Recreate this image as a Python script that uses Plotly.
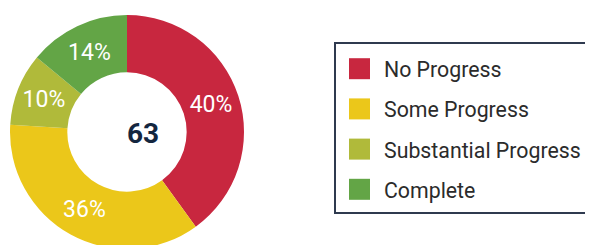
import plotly.graph_objects as go

labels = ["No Progress", "Some Progress", "Substantial Progress", "Complete"]
values = [40, 36, 10, 14]
colors = ["#C8273F", "#EBC71A", "#B0BA3A", "#63A546"]
center_total = "63"

W, H = 593, 245
OFF = 8  # page body margin offset


def px(x):
    return (x - OFF) / W


def py(y):
    return 1 - (y - OFF) / H


fig = go.Figure(
    go.Pie(
        labels=labels,
        values=values,
        hole=0.51,
        sort=False,
        direction="clockwise",
        rotation=0,
        marker=dict(colors=colors, line=dict(width=0)),
        texttemplate="%{percent:.0%}",
        textposition="inside",
        insidetextorientation="horizontal",
        textfont=dict(color="white", size=23, family="Roboto"),
        domain=dict(x=[px(10), px(244)], y=[py(249), py(15)]),
        showlegend=False,
    )
)

fig.add_annotation(
    text="<b>" + center_total + "</b>",
    x=px(125), y=py(133), xref="paper", yref="paper",
    showarrow=False, font=dict(size=28, color="#14263F", family="Roboto"),
)

# legend box
fig.add_shape(type="rect", xref="paper", yref="paper",
              x0=px(335), x1=1.05, y0=py(213), y1=py(43),
              line=dict(color="#2F3A4F", width=2), fillcolor="rgba(0,0,0,0)")

for i, (lab, col) in enumerate(zip(labels, colors)):
    cy = 68.7 + 40.2 * i
    fig.add_shape(type="rect", xref="paper", yref="paper",
                  x0=px(349), x1=px(370), y0=py(cy + 10.5), y1=py(cy - 10.5),
                  line=dict(width=0), fillcolor=col)
    fig.add_annotation(text=lab, x=px(382), y=py(cy + 1), xref="paper", yref="paper",
                       xanchor="left", yanchor="middle", showarrow=False,
                       font=dict(size=21.3, color="#2B2B2B", family="Roboto"))

fig.update_layout(width=W, height=H, margin=dict(l=0, r=0, t=0, b=0),
                  paper_bgcolor="white", plot_bgcolor="white")

fig.write_html("out.html")
